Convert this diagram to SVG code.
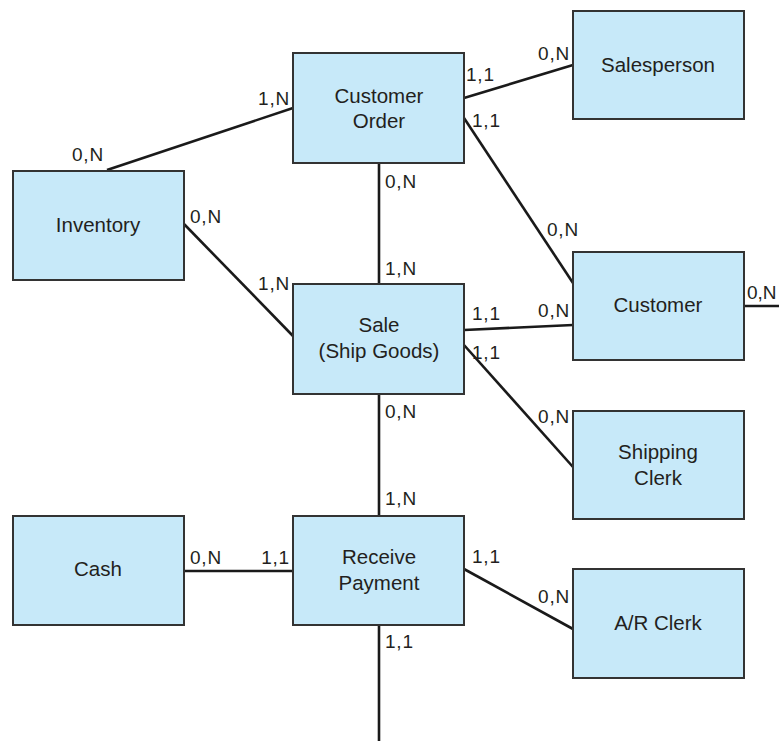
<svg xmlns="http://www.w3.org/2000/svg" width="779" height="741" viewBox="0 0 779 741">
<style>
.box{fill:#c7e9f9;stroke:#333;stroke-width:2}
.lbl{font-family:"Liberation Sans",Arial,sans-serif;font-size:20.5px;fill:#231f20;text-anchor:middle}
.card{font-family:"Liberation Sans",Arial,sans-serif;font-size:19px;letter-spacing:0.8px;fill:#231f20}
.e{text-anchor:end}
.con line{stroke:#1a1a1a;stroke-width:2.6;fill:none}
</style>
<rect width="779" height="741" fill="#fff"/>
<g class="con" id="connectors">
<line x1="107" y1="170" x2="293" y2="108"/>
<line x1="464" y1="98" x2="573" y2="65"/>
<line x1="464" y1="118" x2="573" y2="283"/>
<line x1="379" y1="163" x2="379" y2="284"/>
<line x1="184" y1="224" x2="293" y2="336"/>
<line x1="464" y1="330" x2="573" y2="325"/>
<line x1="744" y1="306" x2="779" y2="306"/>
<line x1="464" y1="345" x2="573" y2="467"/>
<line x1="379" y1="394" x2="379" y2="516"/>
<line x1="184" y1="571" x2="293" y2="571"/>
<line x1="464" y1="569" x2="573" y2="629"/>
<line x1="379" y1="625" x2="379" y2="741"/>
</g>
<g id="customer-order"><rect class="box" x="293" y="53" width="171" height="110"/><text class="lbl" x="379" y="103">Customer</text><text class="lbl" x="379" y="128">Order</text></g>
<g id="salesperson"><rect class="box" x="573" y="11" width="171" height="108"/><text class="lbl" x="658" y="72">Salesperson</text></g>
<g id="inventory"><rect class="box" x="13" y="171" width="171" height="109"/><text class="lbl" x="98" y="232">Inventory</text></g>
<g id="sale"><rect class="box" x="293" y="284" width="171" height="110"/><text class="lbl" x="379" y="332">Sale</text><text class="lbl" x="379" y="358">(Ship Goods)</text></g>
<g id="customer"><rect class="box" x="573" y="252" width="171" height="108"/><text class="lbl" x="658" y="312">Customer</text></g>
<g id="shipping-clerk"><rect class="box" x="573" y="411" width="171" height="108"/><text class="lbl" x="658" y="459">Shipping</text><text class="lbl" x="658" y="485">Clerk</text></g>
<g id="cash"><rect class="box" x="13" y="516" width="171" height="109"/><text class="lbl" x="98" y="576">Cash</text></g>
<g id="receive-payment"><rect class="box" x="293" y="516" width="171" height="109"/><text class="lbl" x="379" y="564">Receive</text><text class="lbl" x="379" y="590">Payment</text></g>
<g id="ar-clerk"><rect class="box" x="573" y="569" width="171" height="109"/><text class="lbl" x="658" y="630">A/R Clerk</text></g>
<g id="cardinalities">
<text class="card e" x="290" y="105">1,N</text>
<text class="card" x="72" y="161">0,N</text>
<text class="card" x="466" y="81">1,1</text>
<text class="card e" x="570" y="60">0,N</text>
<text class="card" x="472" y="127">1,1</text>
<text class="card" x="385" y="188">0,N</text>
<text class="card" x="190" y="223">0,N</text>
<text class="card" x="547" y="236">0,N</text>
<text class="card" x="385" y="275">1,N</text>
<text class="card e" x="290" y="290">1,N</text>
<text class="card" x="472" y="320">1,1</text>
<text class="card e" x="570" y="317">0,N</text>
<text class="card" x="747" y="299" style="letter-spacing:0">0,N</text>
<text class="card" x="472" y="359">1,1</text>
<text class="card" x="385" y="418">0,N</text>
<text class="card e" x="570" y="423">0,N</text>
<text class="card" x="385" y="505">1,N</text>
<text class="card" x="190" y="564">0,N</text>
<text class="card e" x="290" y="564">1,1</text>
<text class="card" x="472" y="563">1,1</text>
<text class="card e" x="570" y="603">0,N</text>
<text class="card" x="385" y="648">1,1</text>
</g>
</svg>
